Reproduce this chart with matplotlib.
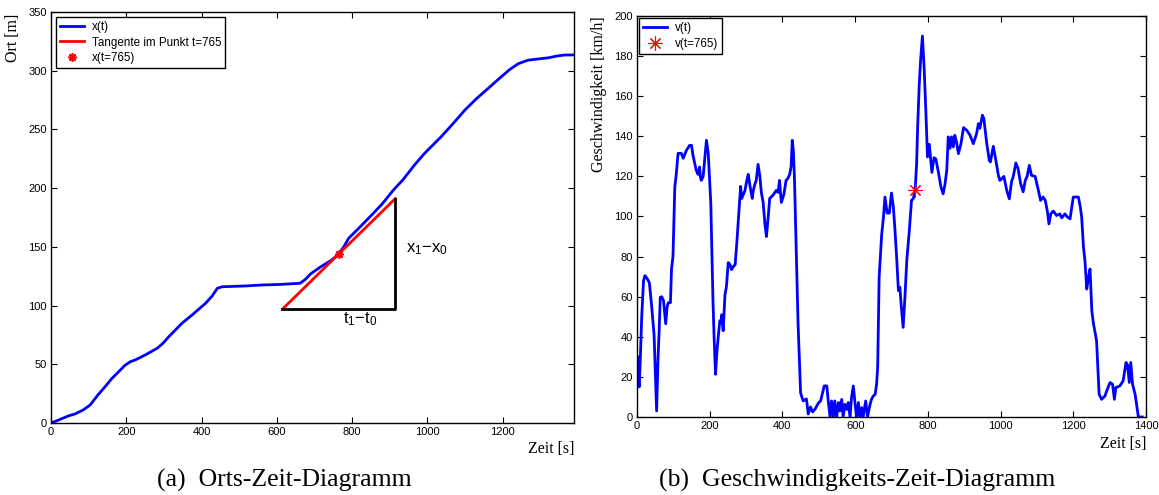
import matplotlib
matplotlib.use("Agg")
import matplotlib.pyplot as plt
import numpy as np

# ---------------- data ----------------
# position x(t)
t_pos = [0, 20, 46, 64, 85, 104, 125, 144, 162, 180, 196, 211, 224, 251, 282, 298,
         313, 330, 348, 375, 393, 411, 428, 442, 455, 517, 560, 610, 662, 675, 690,
         715, 746, 765, 778, 791, 820, 848, 880, 910, 935, 966, 993, 1037, 1070,
         1100, 1130, 1162, 1190, 1219, 1242, 1268, 1295, 1322, 1345, 1366, 1392]
x_pos = [0, 2.5, 6, 7.7, 11, 15.3, 24, 31, 38, 43.7, 49, 52.2, 53.7, 58, 63.6, 68,
         73.5, 79, 84.9, 92, 97, 102, 108, 114.7, 116, 116.7, 117.5, 118, 119, 122,
         127, 132.6, 138.8, 144, 150, 157.3, 166.5, 175.7, 186.5, 198.4, 207, 219.7,
         229.7, 243.8, 255.5, 266.5, 276, 285, 293, 301, 306, 309, 310, 311, 312.5,
         313.4, 313.4]

# velocity v(t) in km/h, split into four stretches of the drive
t_vel_a = [0, 3, 6, 9, 13, 18, 22, 28, 34, 40, 47, 54, 58, 61, 64, 68, 73, 77, 79, 83,
           86, 92, 95, 99, 104, 108, 113, 122, 127, 136, 145, 150, 154, 163, 168, 172,
           175, 177, 182, 187, 191, 196, 203, 209, 212, 216, 220, 224, 228, 231,
           233, 237, 242, 246, 251, 256, 260, 265, 270, 275, 279, 285, 288, 297,
           302, 306, 311, 317, 320, 324, 328, 333, 338, 342, 347, 352, 356, 361,
           365, 374, 383, 388, 392, 397, 404, 410, 415, 420, 424, 427, 430, 433,
           437, 441, 443]
v_vel_a = [30, 30, 15, 28, 50, 68, 70.5, 69, 67, 56, 41, 3, 30, 43, 59.7, 60, 58, 50,
           46.5, 55, 57, 57, 74, 80, 114.7, 121, 131.5, 131.5, 129, 133, 135.5, 135.5,
           130.5, 123, 121, 124.7, 119, 118, 120, 130, 138, 131.5, 106.7, 58, 40, 21.3,
           33, 41, 48, 47, 51, 43, 61, 65, 77, 76, 73.5, 75, 76, 88, 99, 115, 109, 113,
           118, 121, 115, 109, 113, 116, 118, 126, 120, 112, 107, 96, 90, 100, 109,
           110.6, 113, 112, 118, 107, 111, 118, 119, 121, 125, 138, 133, 119.7, 90,
           60, 46.7]

t_vel_b = [450, 457, 466, 471, 477, 483, 490, 499, 505, 515, 522, 526, 531, 535, 540,
           544, 549, 554, 558, 563, 567, 572, 577, 581, 586, 590, 595, 600, 604, 609,
           613, 618, 622, 629, 634, 641, 645, 650, 655, 659, 662]
v_vel_b = [12, 8, 9, 1.5, 5, 2.5, 4, 7, 8, 15.5, 15.5, 8, 0, 8, 0, 8, 0, 7.2, 3, 8.8,
           0, 6.3, 3.8, 7.2, 0, 9.7, 15.5, 6.3, 0, 7.2, 0, 4.7, 0, 8, 0, 6.3, 8.8,
           10.5, 11.3, 16.3, 25]

t_vel_c = [666, 673, 678, 682, 688, 694, 700, 705, 709, 714, 719, 723, 727, 732, 737,
           742, 749, 755, 760, 765, 769, 772, 776, 780, 785, 790, 794, 799, 804, 811,
           817, 822, 829, 836, 842, 847, 852, 856, 861, 865, 870, 874, 879, 884, 891,
           898, 907, 916, 925, 934, 939, 943, 950, 954, 962, 969, 972, 980, 987, 994,
           998, 1004, 1009, 1017, 1024, 1030, 1035, 1042, 1048, 1055, 1062, 1068,
           1073, 1079, 1085, 1095, 1104, 1110, 1117, 1123, 1129, 1133, 1138, 1145,
           1154, 1163, 1168, 1177, 1184, 1191, 1196, 1200, 1214, 1219, 1223, 1228,
           1232, 1237, 1242, 1246, 1251, 1255, 1264]
v_vel_c = [69.7, 91, 100, 109.7, 101.7, 101.7, 111.7, 105, 94.7, 80, 63, 64.7, 55,
           44.7, 60, 78, 93, 108, 109, 113, 126, 145, 164.7, 178, 190, 173, 154.7,
           129.7, 136, 122, 129.3, 128.7, 122, 114.7, 111.3, 116, 123, 139.7, 134,
           139.7, 134.7, 140.5, 137, 131.3, 136.3, 144.3, 143, 140.5, 136.3, 141.3,
           146.3, 144, 150.5, 148.8, 136.3, 128, 127.2, 135, 128, 120.5, 118, 119,
           120, 113, 108.8, 117.3, 120, 126.7, 124, 116.5, 112.3, 118, 120, 125.5,
           120.5, 120, 113, 108, 109.7, 108, 102.2, 96.3, 101.3, 102.7, 100.5, 101.3,
           99.3, 101.3, 99.7, 98.8, 105, 109.7, 109.7, 105, 99.7, 84.7, 78, 63.8, 70,
           73.8, 53, 47, 38]

t_vel_d = [1271, 1278, 1287, 1294, 1301, 1308, 1313, 1317, 1328, 1337, 1345, 1349,
           1354, 1358, 1363, 1370, 1379, 1390]
v_vel_d = [11.3, 8.8, 10.5, 14, 17.2, 16.3, 8.8, 14.7, 15.5, 18, 27.2, 26, 17.2,
           27.2, 16.3, 11.3, 0, 0]

t_vel = t_vel_a + t_vel_b + t_vel_c + t_vel_d
v_vel = v_vel_a + v_vel_b + v_vel_c + v_vel_d

# tangent point
t_star = 765
x_star = 144
v_star = 113
t0, t1 = 615, 915

# ---------------- style ----------------
plt.rcParams['font.family'] = ['Liberation Sans', 'DejaVu Sans']
plt.rcParams['mathtext.fontset'] = 'custom'
plt.rcParams['mathtext.rm'] = 'Liberation Sans'
plt.rcParams['mathtext.it'] = 'Liberation Sans'
serif = ['Liberation Serif', 'DejaVu Serif']

fig = plt.figure(figsize=(11.59, 4.95), dpi=100)
ax1 = fig.add_axes([0.044, 0.1455, 0.4513, 0.8303])
ax2 = fig.add_axes([0.5496, 0.1576, 0.4392, 0.8101])

star = (8, 2, 0)


def style_axes(ax):
    ax.tick_params(direction='in', top=True, right=True, length=4, width=0.8,
                   labelsize=8, pad=3)
    for s in ax.spines.values():
        s.set_linewidth(1.0)


# ---------------- left: position over time ----------------
ax1.plot(t_pos, x_pos, color='#0000ff', lw=2, label='x(t)')
slope = v_star / 360.0
x0 = x_star + slope * (t0 - t_star)
x1 = x_star + slope * (t1 - t_star)
ax1.plot([t0, t1], [x0, x1], color='#ff0000', lw=2,
         label='Tangente im Punkt t=765')
ax1.plot([t0, t1, t1], [x0, x0, x1], color='black', lw=2)
ax1.plot([t_star], [x_star], linestyle='none', marker=star, color='red',
         markersize=6, mew=1.2, label='x(t=765)')
ax1.text(t1 + 28, x_star + 1, r'$\mathregular{x_1{-}x_0}$', fontsize=12,
         ha='left', va='baseline')
ax1.text(t_star + 10, x0 - 12, r'$\mathregular{t_1{-}t_0}$', fontsize=12,
         ha='left', va='baseline')

ax1.set_xlim(0, 1390)
ax1.set_ylim(0, 350)
ax1.set_xticks(np.arange(0, 1201, 200))
ax1.set_yticks(np.arange(0, 351, 50))
style_axes(ax1)
ax1.set_ylabel('Ort [m]', family=serif, fontsize=11.5, ha='right')
ax1.yaxis.set_label_coords(-0.058, 0.995)
ax1.text(1.0, -0.045, 'Zeit [s]', transform=ax1.transAxes, family=serif,
         fontsize=11.5, ha='right', va='top')
leg1 = ax1.legend(loc='upper left', fontsize=8.4, frameon=True, fancybox=False,
                  edgecolor='black', framealpha=1, borderaxespad=0.45,
                  handlelength=2.0, handletextpad=0.7, labelspacing=0.28,
                  borderpad=0.35)
leg1.get_frame().set_linewidth(1.0)

# ---------------- right: velocity over time ----------------
ax2.plot(t_vel, v_vel, color='#0000ff', lw=2, label='v(t)')
ax2.plot([t_star], [v_star], linestyle='none', marker=star, color='red',
         markersize=10, mew=0.8, label='v(t=765)')
ax2.set_xlim(0, 1400)
ax2.set_ylim(0, 200)
ax2.set_xticks(np.arange(0, 1401, 200))
ax2.set_yticks(np.arange(0, 201, 20))
style_axes(ax2)
ax2.set_ylabel('Geschwindigkeit [km/h]', family=serif, fontsize=11.5, ha='right')
ax2.yaxis.set_label_coords(-0.059, 1.0)
ax2.text(1.0, -0.047, 'Zeit [s]', transform=ax2.transAxes, family=serif,
         fontsize=11.5, ha='right', va='top')
leg2 = ax2.legend(loc='upper left', fontsize=8.4, frameon=True, fancybox=False,
                  edgecolor='black', framealpha=1, borderaxespad=0.2,
                  handlelength=2.0, handletextpad=0.7, labelspacing=0.3,
                  borderpad=0.35)
leg2.get_frame().set_linewidth(1.0)

# ---------------- captions ----------------
fig.text(284 / 1159, 1 - 480 / 495, '(a)  Orts-Zeit-Diagramm', family=serif,
         fontsize=18.5, ha='center', va='center')
fig.text(857 / 1159, 1 - 480 / 495, '(b)  Geschwindigkeits-Zeit-Diagramm',
         family=serif, fontsize=18.5, ha='center', va='center')

fig.savefig('out.png', dpi=100)
